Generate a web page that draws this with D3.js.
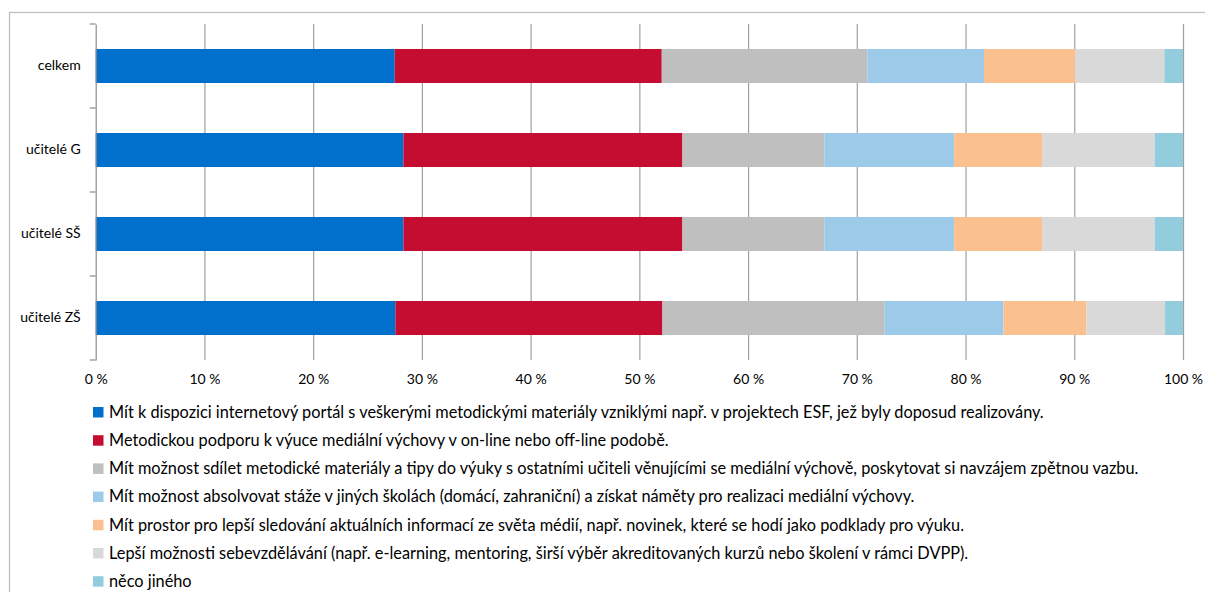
<!DOCTYPE html>
<html>
<head>
<meta charset="utf-8">
<script src="https://cdn.jsdelivr.net/npm/d3@7"></script>
<style>
html,body{margin:0;padding:0;background:#fff;}
svg{display:block;}
text{font-family:"Lato","Open Sans",sans-serif;fill:#000;}
</style>
</head>
<body>
<svg id="chart" width="1205" height="592"></svg>
<script>
const categories = ["celkem", "učitelé G", "učitelé SŠ", "učitelé ZŠ"];
const seriesNames = [
  "Mít k dispozici internetový portál s veškerými metodickými materiály vzniklými např. v projektech ESF, jež byly doposud realizovány.",
  "Metodickou podporu k výuce mediální výchovy v on-line nebo off-line podobě.",
  "Mít možnost sdílet metodické materiály a tipy do výuky s ostatními učiteli věnujícími se mediální výchově, poskytovat si navzájem zpětnou vazbu.",
  "Mít možnost absolvovat stáže v jiných školách (domácí, zahraniční) a získat náměty pro realizaci mediální výchovy.",
  "Mít prostor pro lepší sledování aktuálních informací ze světa médií, např. novinek, které se hodí jako podklady pro výuku.",
  "Lepší možnosti sebevzdělávání (např. e-learning, mentoring, širší výběr akreditovaných kurzů nebo školení v rámci DVPP).",
  "něco jiného"
];
// values in % per series, order follows categories
const portal    = [27.5, 28.3, 28.3, 27.56];
const podpora   = [24.56, 25.66, 25.66, 24.56];
const sdilet    = [18.91, 13.06, 13.06, 20.41];
const staze     = [10.73, 11.93, 11.93, 10.95];
const prostor   = [8.40, 8.09, 8.09, 7.63];
const sebevzdel = [8.19, 10.36, 10.36, 7.24];
const jine      = [1.71, 2.60, 2.60, 1.65];
const xTicks = [0, 10, 20, 30, 40, 50, 60, 70, 80, 90, 100];
const tickLabels = ["0 %", "10 %", "20 %", "30 %", "40 %", "50 %", "60 %", "70 %", "80 %", "90 %", "100 %"];
const colors = ["#0070CC", "#C40D30", "#BFBFBF", "#9DCAE8", "#FAC090", "#D9D9D9", "#93CDDD"];

const seriesValues = [portal, podpora, sdilet, staze, prostor, sebevzdel, jine];
const keys = seriesValues.map((d, i) => "s" + i);
const rows = categories.map((c, ci) => {
  const r = {cat: c};
  keys.forEach((k, si) => r[k] = seriesValues[si][ci]);
  return r;
});

const svg = d3.select("#chart");
const pLeft = 95.7, pRight = 1183, pTop = 24, pBottom = 360;

// outer border
svg.append("rect").attr("x", 9.5).attr("y", 12.5).attr("width", 1220).attr("height", 600)
  .attr("fill", "none").attr("stroke", "#BFBFBF").attr("stroke-width", 1.3);

const x = d3.scaleLinear().domain([0, 100]).range([pLeft, pRight]);
const y = d3.scaleBand().domain(categories).range([pTop, pBottom]).padding(0);
const barH = y.bandwidth() * 0.405;

// gridlines
const grid = svg.append("g").attr("transform", `translate(0,${pBottom})`)
  .call(d3.axisBottom(x).tickValues(xTicks.slice(1)).tickSize(-(pBottom - pTop)).tickFormat(""));
grid.select(".domain").remove();
grid.selectAll("line").attr("stroke", "#A0A0A0").attr("stroke-width", 1.2);

// tick labels
const xl = svg.append("g").attr("transform", `translate(0,${pBottom})`)
  .call(d3.axisBottom(x).tickValues(xTicks).tickSize(0).tickPadding(14).tickFormat((d, i) => tickLabels[i]));
xl.select(".domain").remove();
xl.selectAll("text").attr("font-size", 14).attr("font-family", "Lato,sans-serif").attr("fill", "#000");

// bars
const stack = d3.stack().keys(keys)(rows);
svg.append("g").selectAll("g").data(stack).join("g")
  .attr("fill", (d, i) => colors[i])
  .selectAll("rect").data(d => d).join("rect")
  .attr("x", d => x(d[0]))
  .attr("width", d => x(Math.min(d[1], 100)) - x(d[0]))
  .attr("y", d => y(d.data.cat) + (y.bandwidth() - barH) / 2)
  .attr("height", barH);

// y axis
const ya = svg.append("g").attr("transform", `translate(${pLeft},0)`)
  .call(d3.axisLeft(y).tickSize(0).tickPadding(15));
ya.select(".domain").attr("stroke", "#8C8C8C").attr("stroke-width", 1.2);
ya.selectAll("text").attr("font-size", 14).attr("font-family", "Lato,sans-serif").attr("fill", "#000");
// category boundary tick marks
svg.append("g").selectAll("line").data(d3.range(categories.length + 1)).join("line")
  .attr("x1", pLeft - 6).attr("x2", pLeft)
  .attr("y1", i => pTop + i * y.step()).attr("y2", i => pTop + i * y.step())
  .attr("stroke", "#8C8C8C").attr("stroke-width", 1.2);

// legend
const leg = svg.append("g");
const legTop = 412, legStep = 28.2;
const items = leg.selectAll("g").data(seriesNames).join("g")
  .attr("transform", (d, i) => `translate(93,${legTop + i * legStep})`);
items.append("rect").attr("x", 0).attr("y", -5).attr("width", 10.5).attr("height", 10.5)
  .attr("fill", (d, i) => colors[i]);
const lt = items.append("text").attr("x", 16).attr("y", 0).attr("dy", "0.35em")
  .attr("font-size", 14).text(d => d);
// fit font size so the longest line matches the reference width
const w3 = lt.nodes()[2].getComputedTextLength();
const fs = 14 * 1030 / w3;
lt.attr("font-size", fs);
</script>
</body>
</html>
